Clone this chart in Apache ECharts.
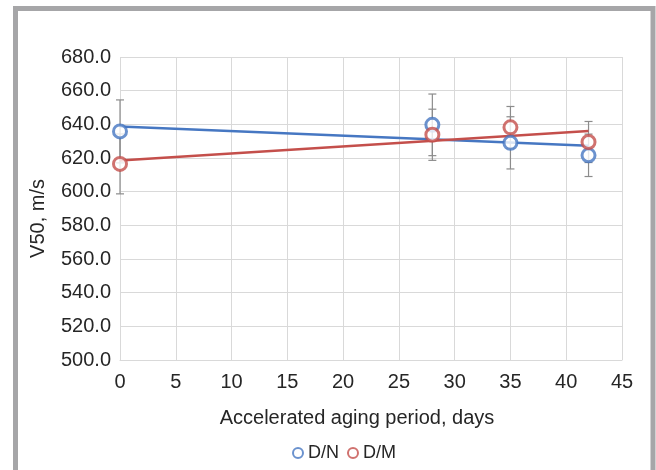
<!DOCTYPE html>
<html>
<head>
<meta charset="utf-8">
<script src="https://cdn.jsdelivr.net/npm/echarts@6/dist/echarts.min.js"></script>
<style>
  html, body { margin: 0; padding: 0; background: #fff; }
  #chart { width: 656px; height: 470px; }
</style>
</head>
<body>
<div id="chart"></div>
<script>
// aging period (days) and V50 readings
var days = [0, 28, 35, 42];
var dnV50 = [635.8, 639.7, 629.0, 621.6];
var dnErr = [18.7, 18.3, 15.5, 12.6];
var dmV50 = [616.5, 633.8, 638.2, 629.5];
var dmErr = [17.8, 15.2, 12.4, 12.2];

var blue = "#4677c2";
var red = "#c44f4b";

// least squares line over the data range, like the Excel trendline
function trend(xs, ys) {
  var n = xs.length, mx = 0, my = 0;
  for (var i = 0; i < n; i++) { mx += xs[i]; my += ys[i]; }
  mx /= n; my /= n;
  var sxy = 0, sxx = 0;
  for (var j = 0; j < n; j++) {
    sxy += (xs[j] - mx) * (ys[j] - my);
    sxx += (xs[j] - mx) * (xs[j] - mx);
  }
  var b = sxy / sxx, a = my - b * mx;
  var x0 = Math.min.apply(null, xs), x1 = Math.max.apply(null, xs);
  return [[x0, a + b * x0], [x1, a + b * x1]];
}

function pairs(ys) {
  return days.map(function (d, i) { return [d, ys[i]]; });
}

function errData(ys, es) {
  return days.map(function (d, i) { return [d, ys[i], es[i]]; });
}

function errItem(params, api) {
  var x = api.value(0), y = api.value(1), e = api.value(2);
  var top = api.coord([x, y + e]);
  var bot = api.coord([x, y - e]);
  var w = 4;
  var st = { stroke: "#8c8c8c", lineWidth: 1.2 };
  return {
    type: "group",
    children: [
      { type: "line", shape: { x1: top[0], y1: top[1], x2: bot[0], y2: bot[1] }, style: st },
      { type: "line", shape: { x1: top[0] - w, y1: top[1], x2: top[0] + w, y2: top[1] }, style: st },
      { type: "line", shape: { x1: bot[0] - w, y1: bot[1], x2: bot[0] + w, y2: bot[1] }, style: st }
    ]
  };
}

var font = "Liberation Sans, Arial, sans-serif";

var chart = echarts.init(document.getElementById("chart"));
chart.setOption({
  animation: false,
  textStyle: { fontFamily: font },
  graphic: [{
    type: "rect",
    shape: { x: 15.5, y: 8.5, width: 637.5, height: 480 },
    style: { fill: "none", stroke: "#a6a6a8", lineWidth: 5 },
    silent: true
  }],
  grid: { left: 120, right: 34, top: 57, bottom: 110 },
  xAxis: {
    type: "value", min: 0, max: 45, interval: 5,
    name: "Accelerated aging period, days",
    nameLocation: "middle", nameGap: 48,
    nameTextStyle: { fontSize: 20, color: "#262626", padding: [0, 28, 0, 0] },
    axisLine: { show: true, lineStyle: { color: "#d9d9d9" } },
    axisTick: { show: false },
    axisLabel: { fontSize: 20, color: "#262626", margin: 12 },
    splitLine: { show: true, lineStyle: { color: "#d9d9d9" } }
  },
  yAxis: {
    type: "value", min: 500, max: 680, interval: 20,
    name: "V50, m/s",
    nameLocation: "middle", nameGap: 72,
    nameTextStyle: { fontSize: 20, color: "#262626", padding: [0, 20, 0, 0] },
    axisLine: { show: false },
    axisTick: { show: false },
    axisLabel: { fontSize: 20, color: "#262626", margin: 9, formatter: function (v) { return v.toFixed(1); } },
    splitLine: { show: true, lineStyle: { color: "#d9d9d9" } }
  },
  legend: {
    left: 287, top: 439,
    icon: "circle", itemWidth: 10, itemHeight: 10, itemGap: 8,
    textStyle: { fontSize: 18, color: "#262626", fontFamily: font },
    data: [
      { name: "D/N", itemStyle: { color: "#fff", borderColor: blue, borderWidth: 2 } },
      { name: "D/M", itemStyle: { color: "#fff", borderColor: red, borderWidth: 2 } }
    ]
  },
  series: [
    { type: "custom", name: "errN", renderItem: errItem, data: errData(dnV50, dnErr), z: 1 },
    { type: "custom", name: "errM", renderItem: errItem, data: errData(dmV50, dmErr), z: 1 },
    {
      type: "line", name: "trendN", data: trend(days, dnV50), symbol: "none",
      lineStyle: { color: blue, width: 2.5 }, z: 2
    },
    {
      type: "line", name: "trendM", data: trend(days, dmV50), symbol: "none",
      lineStyle: { color: red, width: 2.5 }, z: 2
    },
    {
      type: "scatter", name: "D/N", data: pairs(dnV50), symbol: "circle", symbolSize: 13,
      itemStyle: { color: "#fff", borderColor: blue, borderWidth: 3 }, z: 3
    },
    {
      type: "scatter", name: "D/M", data: pairs(dmV50), symbol: "circle", symbolSize: 13,
      itemStyle: { color: "#fff", borderColor: red, borderWidth: 3 }, z: 3
    }
  ]
});
</script>
</body>
</html>
